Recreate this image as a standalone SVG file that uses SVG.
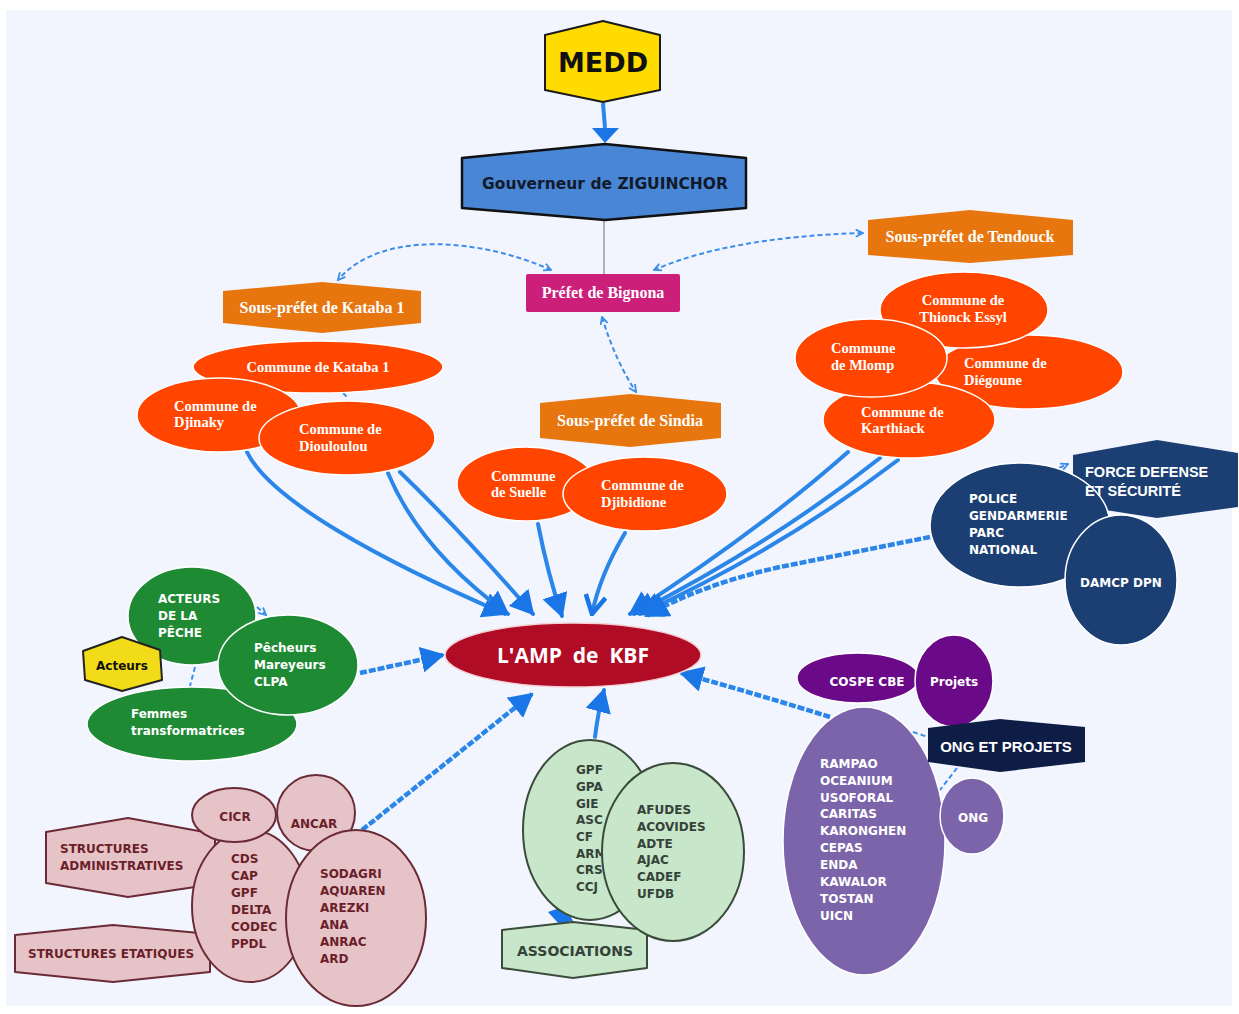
<svg xmlns="http://www.w3.org/2000/svg" width="1239" height="1014" viewBox="0 0 1239 1014">
<style>
.bg{fill:#f2f5fe}
.thick{fill:none;stroke:#2a86e8;stroke-width:4;stroke-linecap:round}
.thickd{fill:none;stroke:#2a86e8;stroke-width:4.5;stroke-dasharray:7 2}
.dash{fill:none;stroke:#3b8ee8;stroke-width:2;stroke-dasharray:5 3}
.sp{fill:#e8760f}
.sptxt{font-family:"Liberation Serif",serif;font-weight:bold;font-size:16px;fill:#fff;text-anchor:middle}
.com{fill:#ff4500;stroke:#fff;stroke-width:1.5}
.ctxt{font-family:"Liberation Serif",serif;font-weight:bold;font-size:14.5px;fill:#fff}
.sans{font-family:"DejaVu Sans",sans-serif;font-weight:bold;font-size:12px}
.wt{fill:#fff}
.grn{fill:#1e8a33;stroke:#fff;stroke-width:1.5}
.pink{fill:#e6c3c7;stroke:#6b2b36;stroke-width:2}
.ptxt{fill:#6b1f2a}
.assoc{fill:#c8e6c9;stroke:#3b4b3b;stroke-width:2}
.atxt{fill:#34423a}
.navy{fill:#1c3f73;stroke:#fff;stroke-width:1.5}
.purp{fill:#6b0a88;stroke:#fff;stroke-width:1.5}
.lav{fill:#7c64aa;stroke:#fff;stroke-width:1.5}
</style>
<defs>
<marker id="big" viewBox="0 0 24 26" markerWidth="24" markerHeight="26" refX="22" refY="13" orient="auto" markerUnits="userSpaceOnUse">
<path d="M0,0 L24,13 L0,26 z" fill="#1a75e6"/>
</marker>
<marker id="open" viewBox="0 0 24 26" markerWidth="22" markerHeight="24" refX="22" refY="13" orient="auto" markerUnits="userSpaceOnUse">
<path d="M2,2 L22,13 L2,24" fill="none" stroke="#1a75e6" stroke-width="5"/>
</marker>
<marker id="sm" viewBox="0 0 10 10" markerWidth="9" markerHeight="9" refX="9" refY="5" orient="auto-start-reverse" markerUnits="userSpaceOnUse">
<path d="M1,1 L9,5 L1,9" fill="none" stroke="#3b8ee8" stroke-width="2"/>
</marker>
</defs>

<rect width="1239" height="1014" fill="#fff"/>
<rect class="bg" x="6" y="10" width="1226" height="996"/>

<g id="connectors">
<path d="M603,103 L605,128" stroke="#2a86e8" stroke-width="4" fill="none"/>
<path d="M592,128 L619,128 L605,143 z" fill="#1a75e6"/>
<line x1="604" y1="220" x2="604" y2="274" stroke="#9a9a9a" stroke-width="1.5"/>
<path class="dash" d="M551,270 C480,238 380,230 338,280" marker-start="url(#sm)" marker-end="url(#sm)"/>
<path class="dash" d="M654,270 Q730,237 863,233" marker-start="url(#sm)" marker-end="url(#sm)"/>
<path class="dash" d="M602,317 Q615,360 636,392" marker-start="url(#sm)" marker-end="url(#sm)"/>
<path class="dash" d="M343,393 L348,398"/>
<path class="dash" d="M257,607 L266,615" marker-end="url(#sm)"/>
<path class="dash" d="M195,667 L190,686"/>
<path class="dash" d="M1052,471 L1068,464" marker-end="url(#sm)"/>
<path class="dash" d="M913,732 L928,737"/>
<path class="dash" d="M957,768 L940,790"/>

<path class="thick" d="M247,452 C270,500 380,560 505,614" marker-end="url(#big)"/>
<path class="thick" d="M388,473 Q420,550 508,614" marker-end="url(#big)"/>
<path class="thick" d="M400,472 Q460,530 533,614" marker-end="url(#big)"/>
<path class="thick" d="M538,524 Q548,575 562,616" marker-end="url(#big)"/>
<path class="thick" d="M625,533 Q600,575 592,614" marker-end="url(#open)"/>
<path class="thick" d="M848,452 Q760,530 630,614" marker-end="url(#big)"/>
<path class="thick" d="M880,458 Q770,545 634,614" marker-end="url(#big)"/>
<path class="thick" d="M898,460 Q780,550 640,614" marker-end="url(#big)"/>
<path class="thickd" d="M930,537 L780,567 Q700,585 646,616" marker-end="url(#big)"/>
<path class="thickd" d="M360,673 L443,655" marker-end="url(#big)"/>
<path class="thickd" d="M362,830 Q450,760 532,694" marker-end="url(#big)"/>
<path class="thick" d="M595,737 Q598,712 604,690" marker-end="url(#big)"/>
<path class="thickd" d="M830,717 Q760,695 681,673" marker-end="url(#big)"/>
<path d="M548,912 L565,906 L573,921 L559,924 z" fill="#1a75e6"/>
</g>

<g id="medd">
<polygon points="545,35 603,21 660,35 660,90 603,102 545,90" fill="#ffdb00" stroke="#1a1a1a" stroke-width="2" stroke-linejoin="round"/>
<text x="603" y="72" font-family="DejaVu Sans,sans-serif" font-weight="bold" font-size="27" fill="#111" text-anchor="middle">MEDD</text>
</g>

<g id="gouverneur">
<polygon points="462,158 605,144 746,158 746,208 605,220 462,208" fill="#4a86d6" stroke="#111" stroke-width="2.5" stroke-linejoin="round"/>
<text x="605" y="189" font-family="DejaVu Sans,sans-serif" font-weight="bold" font-size="15.5" fill="#111a2a" text-anchor="middle">Gouverneur de ZIGUINCHOR</text>
</g>

<g id="prefet">
<rect x="526" y="274" width="154" height="38" rx="2" fill="#cc1f7a"/>
<text class="sptxt" x="603" y="298">Préfet de Bignona</text>
</g>

<g id="sp-kataba">
<polygon class="sp" points="223,291 322,282 421,291 421,323 322,333 223,323"/>
<text class="sptxt" x="322" y="313">Sous-préfet de Kataba 1</text>
</g>
<g id="sp-tendouck">
<polygon class="sp" points="868,220 970,210 1073,220 1073,255 970,263 868,255"/>
<text class="sptxt" x="970" y="242">Sous-préfet de Tendouck</text>
</g>
<g id="sp-sindia">
<polygon class="sp" points="540,403 630,394 721,403 721,438 630,447 540,438"/>
<text class="sptxt" x="630" y="426">Sous-préfet de Sindia</text>
</g>

<g id="c-kataba">
<ellipse class="com" cx="318" cy="367" rx="125" ry="26"/>
<text class="ctxt" x="318" y="372" text-anchor="middle">Commune de Kataba 1</text>
</g>
<g id="c-djinaky">
<ellipse class="com" cx="219" cy="415" rx="82" ry="37"/>
<text class="ctxt" x="174" y="411">Commune de</text>
<text class="ctxt" x="174" y="427">Djinaky</text>
</g>
<g id="c-diouloulou">
<ellipse class="com" cx="347" cy="438" rx="88" ry="37"/>
<text class="ctxt" x="299" y="434">Commune de</text>
<text class="ctxt" x="299" y="451">Diouloulou</text>
</g>
<g id="c-suelle">
<ellipse class="com" cx="526" cy="484" rx="69" ry="37"/>
<text class="ctxt" x="491" y="481">Commune</text>
<text class="ctxt" x="491" y="497">de Suelle</text>
</g>
<g id="c-djibidione">
<ellipse class="com" cx="645" cy="494" rx="82" ry="37"/>
<text class="ctxt" x="601" y="490">Commune de</text>
<text class="ctxt" x="601" y="507">Djibidione</text>
</g>
<g id="c-diegoune">
<ellipse class="com" cx="1029" cy="372" rx="94" ry="37"/>
<text class="ctxt" x="964" y="368">Commune de</text>
<text class="ctxt" x="964" y="385">Diégoune</text>
</g>
<g id="c-thionck">
<ellipse class="com" cx="964" cy="310" rx="84" ry="38"/>
<text class="ctxt" x="963" y="305" text-anchor="middle">Commune de</text>
<text class="ctxt" x="963" y="322" text-anchor="middle">Thionck Essyl</text>
</g>
<g id="c-karthiack">
<ellipse class="com" cx="909" cy="420" rx="86" ry="38"/>
<text class="ctxt" x="861" y="417">Commune de</text>
<text class="ctxt" x="861" y="433">Karthiack</text>
</g>
<g id="c-mlomp">
<ellipse class="com" cx="871" cy="358" rx="76" ry="39"/>
<text class="ctxt" x="831" y="353">Commune</text>
<text class="ctxt" x="831" y="370">de Mlomp</text>
</g>

<g id="amp">
<ellipse cx="573" cy="655" rx="128" ry="32" fill="#b00c25" stroke="#f4d0d6" stroke-width="1.5"/>
<text x="573" y="663" font-family="Open Sans,sans-serif" font-weight="bold" font-size="21" fill="#fff" text-anchor="middle" xml:space="preserve">L'AMP  de  KBF</text>
</g>

<g id="force">
<polygon points="1073,455 1157,440 1238,453 1238,507 1157,518 1073,505" fill="#1c3f73" stroke-linejoin="round"/>
</g>
<g id="police">
<ellipse class="navy" cx="1020" cy="525" rx="90" ry="62"/>
<text class="sans wt" x="969" y="503">POLICE</text>
<text class="sans wt" x="969" y="520">GENDARMERIE</text>
<text class="sans wt" x="969" y="537">PARC</text>
<text class="sans wt" x="969" y="554">NATIONAL</text>
</g>
<g id="force-label">
<text x="1085" y="477" font-family="Liberation Sans,sans-serif" font-weight="bold" font-size="14.5" fill="#fff">FORCE DEFENSE</text>
<text x="1085" y="496" font-family="Liberation Sans,sans-serif" font-weight="bold" font-size="14.5" fill="#fff">ET SÉCURITÉ</text>
</g>
<g id="damcp">
<ellipse class="navy" cx="1121" cy="580" rx="56" ry="65"/>
<text class="sans wt" x="1121" y="587" text-anchor="middle">DAMCP DPN</text>
</g>

<g id="acteurs-peche">
<ellipse class="grn" cx="192" cy="616" rx="64" ry="49"/>
<text class="sans wt" x="158" y="603">ACTEURS</text>
<text class="sans wt" x="158" y="620">DE LA</text>
<text class="sans wt" x="158" y="637">PÊCHE</text>
</g>
<g id="femmes">
<ellipse class="grn" cx="192" cy="724" rx="105" ry="37"/>
<text class="sans wt" x="131" y="718">Femmes</text>
<text class="sans wt" x="131" y="735">transformatrices</text>
</g>
<g id="acteurs">
<polygon points="83,651 122,637 160,650 162,680 122,691 85,680" fill="#f2dc1a" stroke="#222" stroke-width="2" stroke-linejoin="round"/>
<text class="sans" x="122" y="670" fill="#111" text-anchor="middle">Acteurs</text>
</g>
<g id="pecheurs">
<ellipse class="grn" cx="288" cy="665" rx="70" ry="50"/>
<text class="sans wt" x="254" y="652">Pêcheurs</text>
<text class="sans wt" x="254" y="669">Mareyeurs</text>
<text class="sans wt" x="254" y="686">CLPA</text>
</g>

<g id="struct-admin">
<polygon class="pink" points="46,832 128,818 215,834 215,884 128,897 46,883" stroke-linejoin="round"/>
<text class="sans ptxt" x="60" y="853">STRUCTURES</text>
<text class="sans ptxt" x="60" y="870">ADMINISTRATIVES</text>
</g>
<g id="struct-etat">
<polygon class="pink" points="15,935 113,925 210,934 210,972 113,982 15,972" stroke-linejoin="round"/>
<text class="sans ptxt" x="28" y="958">STRUCTURES ETATIQUES</text>
</g>
<g id="ancar">
<ellipse class="pink" cx="316" cy="813" rx="39" ry="38"/>
<text class="sans ptxt" x="314" y="828" text-anchor="middle">ANCAR</text>
</g>
<g id="cds">
<ellipse class="pink" cx="250" cy="906" rx="58" ry="76"/>
<text class="sans ptxt" x="231" y="863">CDS</text>
<text class="sans ptxt" x="231" y="880">CAP</text>
<text class="sans ptxt" x="231" y="897">GPF</text>
<text class="sans ptxt" x="231" y="914">DELTA</text>
<text class="sans ptxt" x="231" y="931">CODEC</text>
<text class="sans ptxt" x="231" y="948">PPDL</text>
</g>
<g id="cicr">
<ellipse class="pink" cx="234" cy="815" rx="42" ry="27"/>
<text class="sans ptxt" x="235" y="821" text-anchor="middle">CICR</text>
</g>
<g id="sodagri">
<ellipse class="pink" cx="356" cy="918" rx="70" ry="88"/>
<text class="sans ptxt" x="320" y="878">SODAGRI</text>
<text class="sans ptxt" x="320" y="895">AQUAREN</text>
<text class="sans ptxt" x="320" y="912">AREZKI</text>
<text class="sans ptxt" x="320" y="929">ANA</text>
<text class="sans ptxt" x="320" y="946">ANRAC</text>
<text class="sans ptxt" x="320" y="963">ARD</text>
</g>

<g id="associations">
<polygon class="assoc" points="502,930 573,922 647,930 647,968 573,978 502,968" stroke-linejoin="round"/>
<text x="575" y="956" font-family="DejaVu Sans,sans-serif" font-weight="bold" font-size="14" fill="#34423a" text-anchor="middle">ASSOCIATIONS</text>
</g>
<g id="gpf">
<ellipse class="assoc" cx="590" cy="830" rx="67" ry="90"/>
<text class="sans atxt" x="576" y="774">GPF</text>
<text class="sans atxt" x="576" y="791">GPA</text>
<text class="sans atxt" x="576" y="808">GIE</text>
<text class="sans atxt" x="576" y="824">ASC</text>
<text class="sans atxt" x="576" y="841">CF</text>
<text class="sans atxt" x="576" y="858">ARM</text>
<text class="sans atxt" x="576" y="874">CRS</text>
<text class="sans atxt" x="576" y="891">CCJ</text>
</g>
<g id="afudes">
<ellipse class="assoc" cx="673" cy="852" rx="71" ry="89"/>
<text class="sans atxt" x="637" y="814">AFUDES</text>
<text class="sans atxt" x="637" y="831">ACOVIDES</text>
<text class="sans atxt" x="637" y="848">ADTE</text>
<text class="sans atxt" x="637" y="864">AJAC</text>
<text class="sans atxt" x="637" y="881">CADEF</text>
<text class="sans atxt" x="637" y="898">UFDB</text>
</g>

<g id="cospe">
<ellipse class="purp" cx="858" cy="678" rx="61" ry="25"/>
<text class="sans wt" x="867" y="686" text-anchor="middle">COSPE CBE</text>
</g>
<g id="projets">
<ellipse class="purp" cx="954" cy="681" rx="39" ry="46"/>
<text class="sans wt" x="954" y="686" text-anchor="middle">Projets</text>
</g>
<g id="ong-list">
<ellipse class="lav" cx="864" cy="841" rx="81" ry="134"/>
<text class="sans wt" x="820" y="768">RAMPAO</text>
<text class="sans wt" x="820" y="785">OCEANIUM</text>
<text class="sans wt" x="820" y="802">USOFORAL</text>
<text class="sans wt" x="820" y="818">CARITAS</text>
<text class="sans wt" x="820" y="835">KARONGHEN</text>
<text class="sans wt" x="820" y="852">CEPAS</text>
<text class="sans wt" x="820" y="869">ENDA</text>
<text class="sans wt" x="820" y="886">KAWALOR</text>
<text class="sans wt" x="820" y="903">TOSTAN</text>
<text class="sans wt" x="820" y="920">UICN</text>
</g>
<g id="ong-projets">
<polygon points="928,728 1000,719 1085,727 1085,762 1000,772 928,762" fill="#0e1d45" stroke-linejoin="round"/>
<text x="1006" y="752" font-family="Liberation Sans,sans-serif" font-weight="bold" font-size="15" fill="#fff" text-anchor="middle">ONG ET PROJETS</text>
</g>
<g id="ong">
<ellipse class="lav" cx="972" cy="816" rx="32" ry="38"/>
<text class="sans wt" x="973" y="822" text-anchor="middle">ONG</text>
</g>
</svg>
